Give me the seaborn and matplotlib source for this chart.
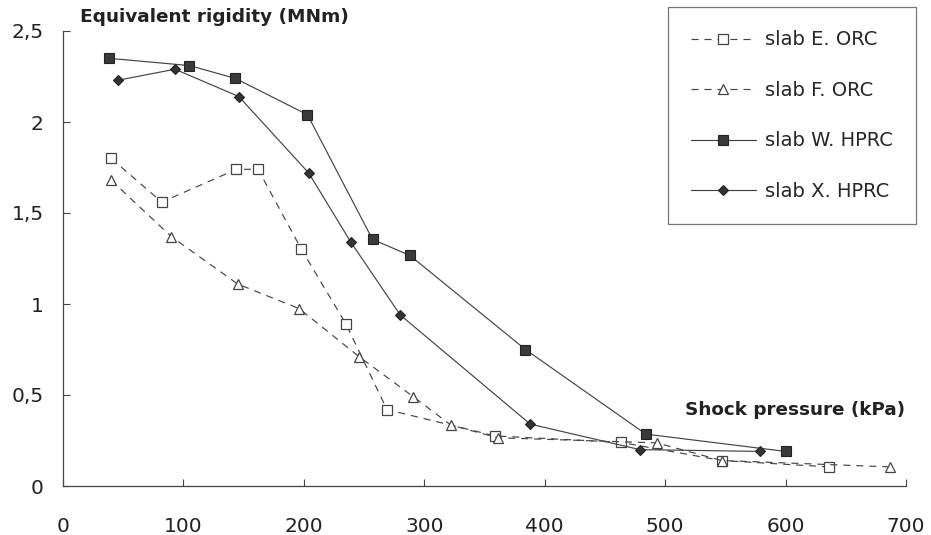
import matplotlib
matplotlib.use("Agg")
import matplotlib.pyplot as plt
import seaborn as sns
from matplotlib.lines import Line2D

sns.set_theme(style="white")
plt.rcParams['font.family'] = ['DejaVu Sans']

# Data
e_x = [40, 82, 144, 162, 198, 235, 269, 359, 463, 547, 636]
e_y = [1.80, 1.56, 1.74, 1.74, 1.30, 0.89, 0.42, 0.275, 0.24, 0.14, 0.105]
f_x = [40, 90, 145, 196, 246, 291, 322, 361, 493, 547, 687]
f_y = [1.68, 1.37, 1.11, 0.975, 0.71, 0.49, 0.335, 0.265, 0.237, 0.14, 0.105]
w_x = [38, 105, 143, 203, 257, 288, 384, 484, 600]
w_y = [2.35, 2.31, 2.24, 2.04, 1.355, 1.267, 0.75, 0.285, 0.19]
x_x = [46, 93, 146, 204, 239, 280, 388, 479, 579]
x_y = [2.23, 2.29, 2.14, 1.72, 1.34, 0.94, 0.34, 0.20, 0.19]

labels = ["slab E. ORC", "slab F. ORC", "slab W. HPRC", "slab X. HPRC"]
x_ticks = [0, 100, 200, 300, 400, 500, 600, 700]
y_ticks = [0, 0.5, 1, 1.5, 2, 2.5]
y_tick_labels = ["0", "0,5", "1", "1,5", "2", "2,5"]

line_col = "#444444"
styles = [
    dict(linestyle=(0, (6, 5)), marker="s", markersize=7.5, markerfacecolor="white",
         markeredgecolor="#444444", markeredgewidth=0.9),
    dict(linestyle=(0, (6, 5)), marker="^", markersize=7.5, markerfacecolor="white",
         markeredgecolor="#444444", markeredgewidth=0.9),
    dict(linestyle="-", marker="s", markersize=7, markerfacecolor="#3a3a3a",
         markeredgecolor="#222222", markeredgewidth=0.8),
    dict(linestyle="-", marker="D", markersize=5.5, markerfacecolor="#333333",
         markeredgecolor="#222222", markeredgewidth=0.8),
]

fig = plt.figure(figsize=(9.31, 5.35), dpi=100)
ax = fig.add_axes([63 / 931, 1 - 486 / 535, (906 - 63) / 931, (486 - 31) / 535])

series = [(e_x, e_y), (f_x, f_y), (w_x, w_y), (x_x, x_y)]
for (xs, ys), st, lab in zip(series, styles, labels):
    sns.lineplot(x=xs, y=ys, ax=ax, sort=False, estimator=None, color=line_col,
                 linewidth=0.85, **st)

ax.set_xlim(0, 700)
ax.set_ylim(0, 2.5)
ax.set_xticks(x_ticks)
ax.set_xticklabels([str(t) for t in x_ticks], fontsize=14.5, color="#222222")
ax.set_yticks(y_ticks)
ax.set_yticklabels(y_tick_labels, fontsize=14.5, color="#222222")
ax.tick_params(axis="x", bottom=True, direction="in", length=5, width=0.8,
               color="#444444", pad=22)
ax.tick_params(axis="y", left=True, direction="in", length=5, width=0.8,
               color="#444444", pad=14)
for side in ["top", "right"]:
    ax.spines[side].set_visible(False)
for side in ["left", "bottom"]:
    ax.spines[side].set_color("#444444")
    ax.spines[side].set_linewidth(0.9)
ax.set_xlabel("")
ax.set_ylabel("")

fig.text(80 / 931, 1 - 17 / 535, "Equivalent rigidity (MNm)", fontsize=13.3,
         fontweight="bold", ha="left", va="center", color="#222222")
fig.text(905 / 931, 1 - 410 / 535, "Shock pressure (kPa)", fontsize=13.2,
         fontweight="bold", ha="right", va="center", color="#222222")

handles = [Line2D([], [], color=line_col, linewidth=0.85, **st) for st in styles]
leg = fig.legend(handles, labels, loc="upper left",
                 bbox_to_anchor=(668 / 931, 1 - 7 / 535), frameon=True,
                 fancybox=False, fontsize=14, handlelength=3.3,
                 labelspacing=1.62, borderpad=1.2, handletextpad=0.5,
                 borderaxespad=0)
leg.get_frame().set_edgecolor("#555555")
leg.get_frame().set_linewidth(0.9)

fig.savefig("out.png", dpi=100)
